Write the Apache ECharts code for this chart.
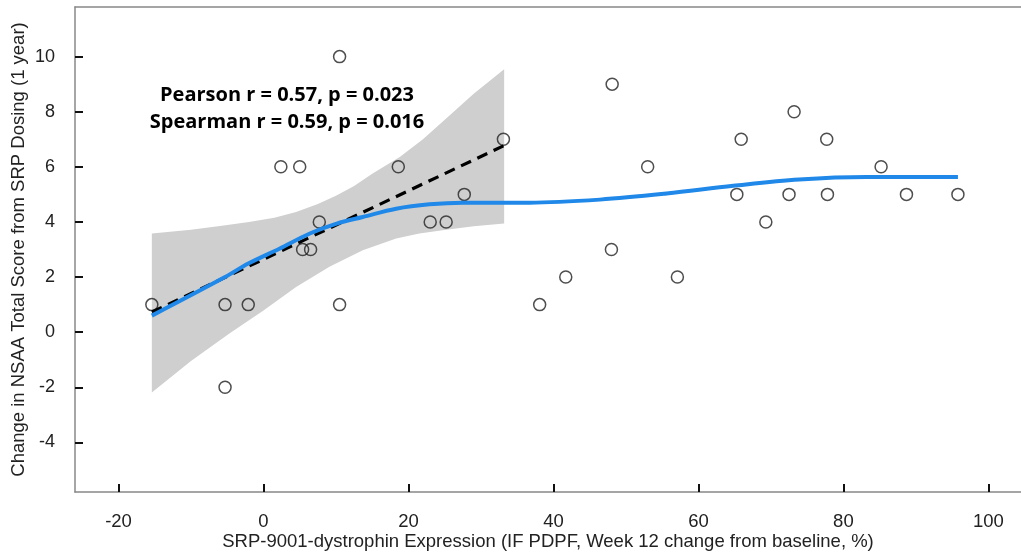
<!DOCTYPE html>
<html>
<head>
<meta charset="utf-8">
<script src="https://cdn.jsdelivr.net/npm/echarts@6/dist/echarts.min.js"></script>
<style>
  html, body { margin: 0; padding: 0; background: #fff; }
  #main { width: 1021px; height: 552px; }
</style>
</head>
<body>
<div id="main"></div>
<script>
// scatter points (expression %, NSAA change)
var ptX = [-15.4, -5.3, -2.1, -5.3, 2.4, 5.0, 5.4, 6.5, 7.7, 10.5, 10.5, 18.6, 23.0, 25.2, 27.7, 33.1,
  38.1, 41.7, 48.1, 48.0, 53.0, 57.1, 65.3, 65.9, 69.3, 72.5, 73.2, 77.7, 77.8, 85.2, 88.7, 95.8];
var ptY = [1, 1, 1, -2, 6, 6, 3, 3, 4, 10, 1, 6, 4, 4, 5, 7,
  1, 2, 9, 3, 6, 2, 5, 7, 4, 5, 8, 7, 5, 6, 5, 5];

// loess smooth (blue)
var loessX = [-15.4, -5.3, -2.1, 2.2, 6.4, 10.1, 13.7, 18.3, 22.9, 27.5, 32.6, 36.7, 46.4, 55.6, 64.8, 73.9, 83.2, 95.8];
var loessY = [0.6, 2.0, 2.49, 3.03, 3.58, 3.94, 4.18, 4.48, 4.64, 4.70, 4.70, 4.70, 4.81, 5.03, 5.31, 5.54, 5.63, 5.63];

// linear fit (dashed) for the lower range
var fitX = [-15.4, 33.1];
var fitY = [0.73, 6.76];

// confidence band
var bandUpX = [-15.4, -10, -6, -2, 1.5, 4.5, 7.5, 10, 12.5, 15, 18.8, 22, 25.7, 29, 33.2];
var bandUpY = [3.58, 3.72, 3.85, 4.0, 4.15, 4.36, 4.65, 4.95, 5.3, 5.75, 6.36, 7.0, 7.87, 8.65, 9.54];
var bandLoX = [-15.4, -10, -4.7, 0, 4.5, 9.1, 13.7, 18.3, 21.5, 25.2, 29, 33.2];
var bandLoY = [-2.19, -1.05, -0.05, 0.79, 1.64, 2.37, 2.97, 3.4, 3.58, 3.72, 3.84, 3.94];

var xTicks = [-20, 0, 20, 40, 60, 80, 100];
var yTicks = [-4, -2, 0, 2, 4, 6, 8, 10];

function zip(a, b) {
  return a.map(function (v, i) { return [v, b[i]]; });
}

var chartDom = document.getElementById("main");
var myChart = echarts.init(chartDom);
var option;

var labelFont = "Liberation Sans, Arial, sans-serif";
var statFont = "bold 20px 'Open Sans', Lato, sans-serif";

option = {
  animation: false,
  grid: { left: 75, right: 0, top: 7, bottom: 60, containLabel: false, outerBoundsMode: "none" },
  xAxis: [
    {
      type: "value",
      min: -26,
      max: 104.5,
      name: "SRP-9001-dystrophin Expression (IF PDPF, Week 12 change from baseline, %)",
      nameLocation: "middle",
      nameGap: 40,
      nameMoveOverlap: false,
      nameTextStyle: { fontFamily: labelFont, fontSize: 18.5, color: "#222" },
      axisLine: { onZero: false, lineStyle: { color: "#888", width: 1.5 } },
      axisTick: { inside: true, length: 8, customValues: xTicks, lineStyle: { color: "#111", width: 2 } },
      axisLabel: { customValues: xTicks, margin: 20, fontFamily: labelFont, fontSize: 18.5, color: "#222" },
      splitLine: { show: false },
    },
    {
      // top border only
      type: "value",
      position: "top",
      min: -26,
      max: 104.5,
      axisLine: { show: true, onZero: false, lineStyle: { color: "#888", width: 1.5 } },
      axisTick: { show: false },
      axisLabel: { show: false },
      splitLine: { show: false },
    },
  ],
  yAxis: {
    type: "value",
    min: -5.8,
    max: 11.8,
    name: "Change in NSAA Total Score from SRP Dosing (1 year)",
    nameLocation: "middle",
    nameGap: 47,
    nameMoveOverlap: false,
    nameTextStyle: { fontFamily: labelFont, fontSize: 18.5, color: "#222" },
    axisLine: { show: true, onZero: false, lineStyle: { color: "#888", width: 1.5 } },
    axisTick: { show: true, inside: true, length: 8, customValues: yTicks, lineStyle: { color: "#111", width: 2 } },
    axisLabel: { customValues: yTicks, margin: 20, fontFamily: labelFont, fontSize: 18, color: "#222" },
    splitLine: { show: false },
  },
  graphic: [
    {
      type: "text",
      x: 287,
      y: 95,
      z: 10,
      style: {
        text: "Pearson r = 0.57, p = 0.023",
        font: statFont,
        fill: "#000",
        align: "center",
        verticalAlign: "middle",
      },
    },
    {
      type: "text",
      x: 287,
      y: 122,
      z: 10,
      style: {
        text: "Spearman r = 0.59, p = 0.016",
        font: statFont,
        fill: "#000",
        align: "center",
        verticalAlign: "middle",
      },
    },
  ],
  series: [
    {
      type: "custom",
      name: "band",
      z: 1,
      silent: true,
      data: [[bandUpX[0], bandUpY[0]]],
      renderItem: function (params, api) {
        var pts = zip(bandUpX, bandUpY).map(function (p) { return api.coord(p); });
        var lo = zip(bandLoX, bandLoY).reverse().map(function (p) { return api.coord(p); });
        return {
          type: "polygon",
          shape: { points: pts.concat(lo) },
          style: { fill: "#cfcfcf" },
        };
      },
    },
    {
      type: "scatter",
      z: 2,
      data: zip(ptX, ptY),
      symbol: "circle",
      symbolSize: 12,
      itemStyle: { color: "rgba(255,255,255,0)", borderColor: "#222", borderWidth: 1.5 },
    },
    {
      type: "line",
      z: 3,
      data: zip(fitX, fitY),
      showSymbol: false,
      lineStyle: { color: "#000", width: 3.2, type: [11, 7] },
    },
    {
      type: "line",
      z: 4,
      data: zip(loessX, loessY),
      smooth: 0.35,
      showSymbol: false,
      lineStyle: { color: "#1f88e8", width: 4 },
    },
  ],
};

option && myChart.setOption(option);
</script>
</body>
</html>
